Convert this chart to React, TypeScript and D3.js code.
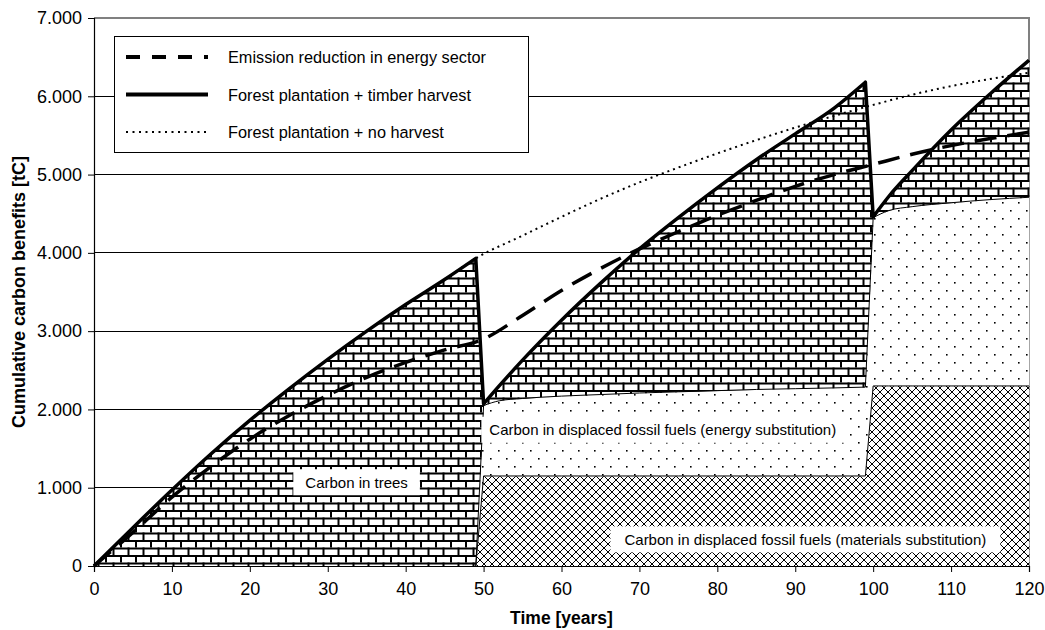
import React, { useEffect, useRef } from 'react';
import * as d3 from 'd3';

// stacked layers (cumulative tC)
const years = [0, 5, 10, 15, 20, 25, 30, 35, 40, 45, 49, 50, 52, 55, 60, 65, 70, 75, 80, 85, 90, 95, 99, 100, 102, 105, 110, 115, 120];
const materialsTop = [0, 0, 0, 0, 0, 0, 0, 0, 0, 0, 0, 1150, 1150, 1150, 1150, 1150, 1150, 1150, 1150, 1150, 1150, 1150, 1150, 2300, 2300, 2300, 2300, 2300, 2300];
const energyTop = [0, 0, 0, 0, 0, 0, 0, 0, 0, 0, 0, 2050, 2110, 2140, 2170, 2190, 2210, 2225, 2240, 2255, 2265, 2275, 2285, 4450, 4540, 4590, 4640, 4680, 4710];
const harvestTotal = [0, 490, 970, 1430, 1860, 2260, 2640, 3000, 3340, 3660, 3930, 2070, 2300, 2630, 3140, 3610, 4050, 4450, 4830, 5190, 5520, 5850, 6180, 4460, 4720, 5050, 5570, 6030, 6460];

const lineYears = [0, 5, 10, 15, 20, 25, 30, 35, 40, 45, 49, 55, 60, 65, 70, 75, 80, 85, 90, 95, 100, 105, 110, 115, 120];
const noHarvest = [0, 490, 970, 1430, 1860, 2260, 2640, 3000, 3340, 3660, 3930, 4220, 4460, 4690, 4900, 5090, 5270, 5440, 5600, 5750, 5890, 6020, 6130, 6220, 6300];

const energyYears = [0, 5, 10, 15, 20, 25, 30, 35, 40, 45, 50, 55, 60, 65, 70, 75, 80, 85, 90, 95, 100, 105, 110, 115, 120];
const emissionReduction = [0, 430, 880, 1270, 1620, 1920, 2180, 2410, 2600, 2760, 2900, 3200, 3520, 3800, 4050, 4270, 4480, 4670, 4850, 5000, 5130, 5260, 5370, 5460, 5540];

const xTicks = [0, 10, 20, 30, 40, 50, 60, 70, 80, 90, 100, 110, 120];
const yTicks = [0, 1000, 2000, 3000, 4000, 5000, 6000, 7000];

// rotation pieces: smooth growth, straight harvest drops
const segments = [
  { from: 0, to: 49, smooth: true },
  { from: 49, to: 50, smooth: false },
  { from: 50, to: 99, smooth: true },
  { from: 99, to: 100, smooth: false },
  { from: 100, to: 120, smooth: true },
];

const legendItems = [
  { label: 'Emission reduction in energy sector', kind: 'dash' },
  { label: 'Forest plantation + timber harvest', kind: 'solid' },
  { label: 'Forest plantation + no harvest', kind: 'dot' },
];

const W = 1045;
const H = 630;
const margin = { top: 18, right: 16, bottom: 64, left: 94 };
const font = 'Arial, "Liberation Sans", sans-serif';

const App = () => {
  const svgRef = useRef<SVGSVGElement>(null);

  useEffect(() => {
    const svg = d3.select(svgRef.current);
    svg.selectAll('*').remove();

    const x = d3.scaleLinear().domain([0, 120]).range([margin.left, W - margin.right]);
    const y = d3.scaleLinear().domain([0, 7000]).range([H - margin.bottom, margin.top]);
    const fmt = d3.formatLocale({ decimal: ',', thousands: '.', grouping: [3], currency: ['', ''] }).format(',');

    const defs = svg.append('defs');

    // horizontal brick
    const brick = defs.append('pattern').attr('id', 'brick').attr('patternUnits', 'userSpaceOnUse')
      .attr('width', 15).attr('height', 15);
    brick.append('rect').attr('width', 15).attr('height', 15).attr('fill', '#fff');
    brick.append('rect').attr('x', 0).attr('y', 0).attr('width', 15).attr('height', 2).attr('fill', '#000');
    brick.append('rect').attr('x', 0).attr('y', 7.5).attr('width', 15).attr('height', 2).attr('fill', '#000');
    brick.append('rect').attr('x', 0).attr('y', 0).attr('width', 2).attr('height', 7.5).attr('fill', '#000');
    brick.append('rect').attr('x', 7.5).attr('y', 7.5).attr('width', 2).attr('height', 7.5).attr('fill', '#000');

    // sparse dots
    const dots = defs.append('pattern').attr('id', 'dots').attr('patternUnits', 'userSpaceOnUse')
      .attr('width', 16).attr('height', 16);
    dots.append('rect').attr('width', 16).attr('height', 16).attr('fill', '#fff');
    dots.append('rect').attr('x', 2).attr('y', 2).attr('width', 1.6).attr('height', 1.6).attr('fill', '#000');
    dots.append('rect').attr('x', 10).attr('y', 10).attr('width', 1.6).attr('height', 1.6).attr('fill', '#000');

    // diagonal cross
    const cross = defs.append('pattern').attr('id', 'cross').attr('patternUnits', 'userSpaceOnUse')
      .attr('width', 8).attr('height', 8);
    cross.append('rect').attr('width', 8).attr('height', 8).attr('fill', '#fff');
    cross.append('path').attr('d', 'M0,0L8,8M8,0L0,8').attr('stroke', '#000').attr('stroke-width', 1);

    // grid
    svg.append('g').selectAll('line').data(yTicks.slice(1, -1)).enter().append('line')
      .attr('x1', x(0)).attr('x2', x(120)).attr('y1', (d) => y(d)).attr('y2', (d) => y(d))
      .attr('stroke', '#000').attr('stroke-width', 1).attr('shape-rendering', 'crispEdges');

    // plot border (top / right)
    svg.append('path')
      .attr('d', `M${x(0)},${y(7000)}H${x(120)}V${y(0)}`)
      .attr('fill', 'none').attr('stroke', '#808080').attr('stroke-width', 2);

    const rows = years.map((yr, i) => ({ yr, m: materialsTop[i], e: energyTop[i], t: harvestTotal[i] }));
    const pieces = segments.map((s) => ({
      curve: s.smooth ? d3.curveMonotoneX : d3.curveLinear,
      rows: rows.filter((d) => d.yr >= s.from && d.yr <= s.to),
    }));

    const fillLayer = (lo: (d: any) => number, hi: (d: any) => number, fill: string) => {
      pieces.forEach((p) => {
        const area = d3.area<any>().x((d) => x(d.yr)).y0((d) => y(lo(d))).y1((d) => y(hi(d))).curve(p.curve);
        svg.append('path').datum(p.rows).attr('d', area).attr('fill', fill)
          .attr('stroke', fill).attr('stroke-width', 0.6);
      });
    };
    fillLayer(() => 0, (d) => d.m, 'url(#cross)');
    fillLayer((d) => d.m, (d) => d.e, 'url(#dots)');
    fillLayer((d) => d.e, (d) => d.t, 'url(#brick)');

    // joined path through the pieces
    const joined = (val: (d: any) => number, fromYear: number) =>
      pieces
        .filter((p) => p.rows[0].yr >= fromYear)
        .map((p, i) => {
          const d = d3.line<any>().x((r) => x(r.yr)).y((r) => y(val(r))).curve(p.curve)(p.rows) || '';
          return i === 0 ? d : 'L' + d.slice(1);
        })
        .join('');

    // thin boundaries of the stacked layers
    svg.append('path').attr('d', joined((d) => d.m, 49)).attr('fill', 'none').attr('stroke', '#000').attr('stroke-width', 1);
    svg.append('path').attr('d', joined((d) => d.e, 49)).attr('fill', 'none').attr('stroke', '#000').attr('stroke-width', 1);

    // labels
    const labels = [
      { text: 'Carbon in trees', yr: 33.7, v: 1070, padX: 12 },
      { text: 'Carbon in displaced fossil fuels (energy substitution)', yr: 73, v: 1740, padX: 8 },
      { text: 'Carbon in displaced fossil fuels (materials substitution)', yr: 91.3, v: 340, padX: 14 },
    ];
    labels.forEach((l) => {
      const g = svg.append('g');
      const t = g.append('text').attr('x', x(l.yr)).attr('y', y(l.v)).attr('text-anchor', 'middle')
        .attr('dominant-baseline', 'central').attr('font-family', font).attr('font-size', 15).text(l.text);
      const bb = (t.node() as SVGTextElement).getBBox();
      g.insert('rect', 'text').attr('x', bb.x - l.padX).attr('y', y(l.v) - 13).attr('width', bb.width + 2 * l.padX)
        .attr('height', 26).attr('fill', '#fff');
    });

    // series lines
    svg.append('path').datum(lineYears.map((yr, i) => ({ yr, v: noHarvest[i] })))
      .attr('d', d3.line<any>().x((d) => x(d.yr)).y((d) => y(d.v)).curve(d3.curveMonotoneX))
      .attr('fill', 'none').attr('stroke', '#000').attr('stroke-width', 2).attr('stroke-dasharray', '2,4');

    svg.append('path').datum(energyYears.map((yr, i) => ({ yr, v: emissionReduction[i] })))
      .attr('d', d3.line<any>().x((d) => x(d.yr)).y((d) => y(d.v)).curve(d3.curveMonotoneX))
      .attr('fill', 'none').attr('stroke', '#000').attr('stroke-width', 3.5).attr('stroke-dasharray', '22,11');

    svg.append('path').attr('d', joined((d) => d.t, 0))
      .attr('fill', 'none').attr('stroke', '#000').attr('stroke-width', 3.5).attr('stroke-linejoin', 'round');

    // axes
    const yAxis = svg.append('g').attr('transform', `translate(${x(0)},0)`)
      .call(d3.axisLeft(y).tickValues(yTicks).tickSize(6).tickPadding(6).tickFormat((d) => fmt(d as number)));
    const xAxis = svg.append('g').attr('transform', `translate(0,${y(0)})`)
      .call(d3.axisBottom(x).tickValues(xTicks).tickSize(6).tickPadding(10));
    [yAxis, xAxis].forEach((a) => {
      a.select('.domain').attr('stroke', '#000').attr('stroke-width', 1.2);
      a.selectAll('text').attr('font-family', font).attr('font-size', 18).attr('fill', '#000');
      a.selectAll('line').attr('stroke', '#000');
    });

    svg.append('text').attr('x', (x(0) + x(120)) / 2).attr('y', 624).attr('text-anchor', 'middle')
      .attr('font-family', font).attr('font-size', 17.5).attr('font-weight', 'bold').text('Time [years]');
    svg.append('text').attr('transform', `translate(19,${(y(0) + y(7000)) / 2}) rotate(-90)`)
      .attr('text-anchor', 'middle').attr('dominant-baseline', 'central').attr('font-family', font)
      .attr('font-size', 18).attr('font-weight', 'bold')
      .text('Cumulative carbon benefits [tC]');

    // legend
    const lg = svg.append('g').attr('transform', 'translate(114,36)');
    lg.append('rect').attr('x', 0.5).attr('y', 0.5).attr('width', 414).attr('height', 116)
      .attr('fill', '#fff').attr('stroke', '#000').attr('stroke-width', 1);
    legendItems.forEach((it, i) => {
      const cy = 21 + i * 37.5;
      const ln = lg.append('line').attr('x1', 12).attr('x2', 94).attr('y1', cy).attr('y2', cy).attr('stroke', '#000');
      if (it.kind === 'dash') ln.attr('stroke-width', 4).attr('stroke-dasharray', '14,12');
      if (it.kind === 'solid') ln.attr('stroke-width', 4);
      if (it.kind === 'dot') ln.attr('stroke-width', 2).attr('stroke-dasharray', '2,4.5');
      lg.append('text').attr('x', 114).attr('y', cy).attr('dominant-baseline', 'central')
        .attr('font-family', font).attr('font-size', 16.3).text(it.label);
    });
  }, []);

  return <svg ref={svgRef} width={W} height={H} style={{ position: 'absolute', left: 0, top: 0, background: '#fff' }}></svg>;
};

export default App;
